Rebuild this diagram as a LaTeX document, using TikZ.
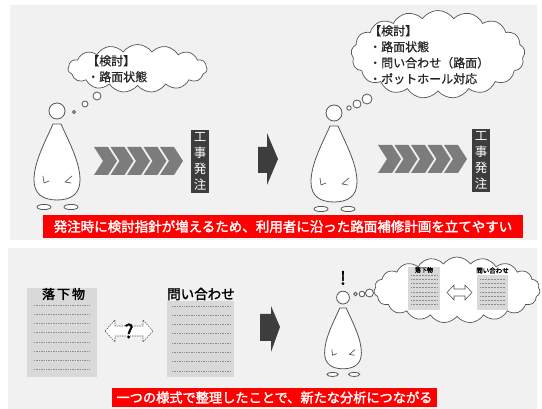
\documentclass[tikz,border=0pt]{standalone}
\usepackage{fontspec}
\newfontfamily\jp{Noto Sans CJK JP}[AutoFakeBold=2]
\newfontfamily\jpmed{Noto Sans CJK JP}[AutoFakeBold=0.8]
\usetikzlibrary{shapes.symbols}
\definecolor{panelbg}{HTML}{F1F1F1}
\definecolor{docfill}{HTML}{D9D9D9}
\definecolor{boxdark}{HTML}{3D3D3D}
\definecolor{chevron}{HTML}{7C7C7C}
\definecolor{outlinegray}{HTML}{555555}
\definecolor{rulegray}{HTML}{8C8C8C}
\definecolor{alertred}{HTML}{FF0000}
\newcommand\fsz[2]{\fontsize{#1pt}{#2pt}\selectfont}
\tikzset{
  panel/.style={fill=panelbg},
  figline/.style={draw=outlinegray, line width=0.8pt, fill=white},
  handline/.style={draw=outlinegray, line width=0.7pt, line cap=round, line join=round},
  bubble/.style={cloud, cloud puffs=#1, cloud puff arc=110, cloud ignores aspect, draw=outlinegray, fill=white, line width=0.7pt, inner sep=0pt},
  cloudtext/.style={font=\jpmed\bfseries\fsz{12}{16}, align=left, anchor=north west, inner sep=0pt, text=black!85},
  workbox/.style={fill=boxdark, text=white, font=\jp\fsz{12.5}{16}, align=center, minimum width=18pt, inner sep=0pt},
  bigarrow/.style={fill=boxdark},
  chev/.style={fill=chevron},
  banner/.style={fill=alertred, text=white, font=\jp\bfseries\fsz{13.5}{16}, inner sep=0pt},
  doc/.style={fill=docfill, inner sep=0pt},
  doctitle/.style={font=\jp\bfseries\fsz{13}{15}, inner sep=0pt},
  dotrule/.style={draw=rulegray, line width=0.5pt, dash pattern=on 1.3pt off 1.1pt},
  hollow/.style={draw=outlinegray, fill=white, line width=0.6pt, line join=miter},
  person/.pic={
    \draw[figline] (0,-13) circle[radius=8];
    \draw[figline] (-4,0) -- (4,0) .. controls (12,18) and (23,38) .. (23,56)
      .. controls (23,70) and (14,76) .. (0,76)
      .. controls (-14,76) and (-23,70) .. (-23,56)
      .. controls (-23,38) and (-12,18) .. (-4,0) -- cycle;
    \draw[figline] (-13,83) ellipse[x radius=7, y radius=2.6];
    \draw[figline] (14,83) ellipse[x radius=7, y radius=2.6];
    \draw[handline] (-14,52) -- (-13,59) -- (-8,57);
    \draw[handline] (15,52) -- (8,58) -- (14,59);
  },
}
\begin{document}
\begin{tikzpicture}[x=1pt, y=-1pt]
\useasboundingbox[fill=white] (0,0) rectangle (542,409);

% two panels
\fill[panel] (10,5) rectangle (537,240);
\fill[panel] (8,248) rectangle (537,409);

% ---------- upper panel ----------
% first person and thought
\pic at (57,124) {person};
\draw[figline] (74,112) circle[radius=1.5];
\draw[figline] (85,104) circle[radius=3];
\draw[figline] (97,96) circle[radius=4];
\node[bubble=15, minimum width=139pt, minimum height=48pt] (c1) at (137.5,68.5) {};
\node[cloudtext] (t1) at (87,55) {【検討】\\・路面状態};

% chevrons to first order box
\foreach \i in {0,...,4}
  \fill[chev] ({94+16.5*\i},147) -- ++(14,0) -- ++(9,14) -- ++(-9,14) -- ++(-14,0) -- ++(9,-14) -- cycle;
\node[workbox, minimum height=63pt] (box1) at (200,161.5) {工\\事\\発\\注};

% transition arrow
\fill[bigarrow] (258,147) -- (267,147) -- (267,133) -- (278,159) -- (267,185) -- (267,173) -- (258,173) -- cycle;

% second person and thought
\pic at (334,126) {person};
\draw[figline] (349,108) circle[radius=2.2];
\draw[figline] (357,104) circle[radius=4];
\draw[figline] (367,99) circle[radius=5];
\node[bubble=17, minimum width=174pt, minimum height=88pt] (c2) at (438,54.5) {};
\node[cloudtext] (t2) at (369,25) {【検討】\\・路面状態\\・問い合わせ（路面）\\・ポットホール対応};

\foreach \i in {0,...,4}
  \fill[chev] ({378+16.5*\i},145) -- ++(14,0) -- ++(9,14) -- ++(-9,14) -- ++(-14,0) -- ++(9,-14) -- cycle;
\node[workbox, minimum height=63pt] (box2) at (481,160.5) {工\\事\\発\\注};

\node[banner, minimum width=480pt, minimum height=23pt] (msg1) at (283,226.5)
  {発注時に検討指針が増えるため、利用者に沿った路面補修計画を立てやすい};

% ---------- lower panel ----------
% falling-object sheet
\node[doc, minimum width=70pt, minimum height=89pt] (doc1) at (62,332.5) {};
\node[doctitle] (doc1t) at (63.5,294) {落\hspace{2pt}下\hspace{2pt}物};
\foreach \y in {305,314,323,332.5,342,351,360,369}
  \draw[dotrule] (34,\y) -- (91,\y);

% uncertain link between the sheets
\draw[hollow, dash pattern=on 1.5pt off 1pt]
  (105,331) -- ++(10,-11) -- ++(0,6) -- ++(28,0) -- ++(0,-6) -- ++(10,11)
  -- ++(-10,11) -- ++(0,-6) -- ++(-28,0) -- ++(0,6) -- cycle;
\node[font=\jp\bfseries\fsz{19}{19}, inner sep=0pt] (q) at (129,331) {?};

% inquiry sheet
\node[doc, minimum width=67pt, minimum height=76pt] (doc2) at (200.5,339) {};
\node[doctitle, font=\jp\bfseries\fsz{13.5}{15}] (doc2t) at (201,294) {問い合わせ};
\foreach \y in {306,315,324,333,343,352,361,371}
  \draw[dotrule] (172,\y) -- (231,\y);

% transition arrow
\fill[bigarrow] (260,314) -- (271,314) -- (271,306) -- (280,327) -- (271,352) -- (271,341) -- (260,341) -- cycle;

% third person with insight
\pic[scale=0.8] at (343,308) {person};
\node[font=\jp\bfseries\fsz{18}{18}, inner sep=0pt] (excl) at (343,278) {!};
\draw[figline] (355.5,294) circle[radius=1.7];
\draw[figline] (362,294) circle[radius=2.8];
\draw[figline] (369.5,293) circle[radius=4];
\node[bubble=19, minimum width=166pt, minimum height=66pt] (c3) at (457,290) {};

% sheets inside the thought
\node[doc, minimum width=32pt, minimum height=43pt] (mini1) at (424,288.5) {};
\node[font=\jp\bfseries\fsz{6}{7}, inner sep=0pt] (mini1t) at (424,270) {落下物};
\foreach \y in {275,279,283,287,292,296,300,304}
  \draw[dotrule, line width=0.4pt, dash pattern=on 0.8pt off 0.7pt] (411,\y) -- (437,\y);
\draw[hollow]
  (447,292.5) -- ++(7,-7.5) -- ++(0,4) -- ++(11,0) -- ++(0,-4) -- ++(7,7.5)
  -- ++(-7,7.5) -- ++(0,-4) -- ++(-11,0) -- ++(0,4) -- cycle;
\node[doc, minimum width=31pt, minimum height=35pt] (mini2) at (492.5,292.5) {};
\node[font=\jp\bfseries\fsz{6.5}{7}, inner sep=0pt] (mini2t) at (492.5,270.5) {問い合わせ};
\foreach \y in {279,283,287,292,296,300,304}
  \draw[dotrule, line width=0.4pt, dash pattern=on 0.8pt off 0.7pt] (480,\y) -- (505,\y);

\node[banner, font=\jp\bfseries\fsz{13.2}{16}, minimum width=325pt, minimum height=19pt] (msg2) at (274.5,397.5)
  {一つの様式で整理したことで、新たな分析につながる};
\end{tikzpicture}
\end{document}
